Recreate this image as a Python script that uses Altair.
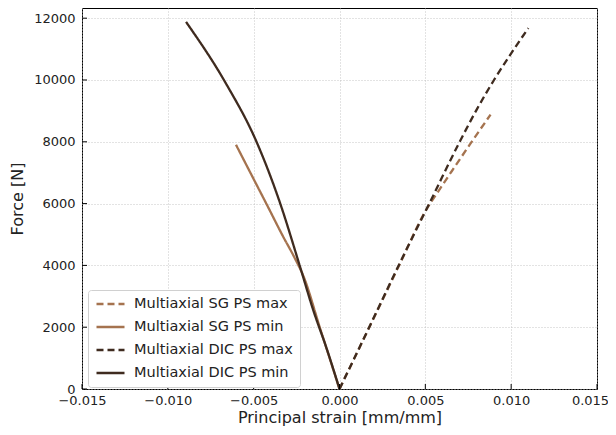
import altair as alt
import pandas as pd

# ---- data ----
series_names = ["Multiaxial SG PS max", "Multiaxial SG PS min",
                "Multiaxial DIC PS max", "Multiaxial DIC PS min"]

sg_max_strain = [0.0, 0.0018, 0.0035, 0.0050, 0.0057, 0.0067, 0.0078, 0.0088]
sg_max_force = [0, 2070, 4030, 5750, 6350, 7180, 8080, 8880]

sg_min_strain = [0.0, -0.00114, -0.0021, -0.0026, -0.0033, -0.0042, -0.0051, -0.00603]
sg_min_force = [0, 1980, 3650, 4230, 4950, 5930, 6900, 7905]

dic_max_strain = [0.0, 0.0018, 0.0035, 0.0053, 0.0070, 0.0080, 0.0090, 0.0100, 0.0110]
dic_max_force = [0, 2080, 4060, 6080, 8000, 9050, 10000, 10860, 11680]

dic_min_strain = [0.0, -0.00073, -0.00154, -0.0023, -0.00347, -0.00481, -0.00667, -0.00894]
dic_min_force = [0, 1280, 2570, 3960, 6030, 7970, 9940, 11880]

x_ticks = [-0.015, -0.010, -0.005, 0.0, 0.005, 0.010, 0.015]
y_ticks = [0, 2000, 4000, 6000, 8000, 10000, 12000]

colors = ["#a5734f", "#a5734f", "#3f2b1f", "#3f2b1f"]
dashes = [[7, 4], [1, 0], [7, 4], [1, 0]]

rows = []
for name, xs, ys in zip(series_names,
                        [sg_max_strain, sg_min_strain, dic_max_strain, dic_min_strain],
                        [sg_max_force, sg_min_force, dic_max_force, dic_min_force]):
    for sx, fy in zip(xs, ys):
        rows.append({"series": name, "strain": sx, "force": fy})
df = pd.DataFrame(rows)

W, H = 515, 381
xscale = alt.Scale(domain=[-0.015, 0.015], nice=False, zero=False)
yscale = alt.Scale(domain=[0, 12330], nice=False)

xaxis = alt.Axis(values=x_ticks, format=".3f", title="Principal strain [mm/mm]",
                 labelFlush=False, labelOverlap=False, tickSize=0, labelPadding=5,
                 titlePadding=2,
                 labelOffset={"condition": {"test": "datum.value >= 0.0149", "value": -7},
                              "value": 0})
yaxis = alt.Axis(values=y_ticks, format="d", title="Force [N]",
                 labelOverlap=False, tickSize=0, labelPadding=7, titlePadding=8)

X = alt.X("strain:Q", scale=xscale, axis=xaxis)
Y = alt.Y("force:Q", scale=yscale, axis=yaxis)

legend = alt.Legend(title=None, orient="none", legendX=6, legendY=282,
                    symbolType="stroke", symbolSize=784, symbolStrokeWidth=2.5,
                    clipHeight=14,
                    labelFontSize=14.5, labelOffset=8, rowPadding=8, padding=7,
                    fillColor="white", strokeColor="#d0d0d0", cornerRadius=3,
                    labelColor="#222222")

lines = alt.Chart(df).mark_line(strokeWidth=2.3, interpolate="monotone").encode(
    x=X, y=Y,
    color=alt.Color("series:N", scale=alt.Scale(domain=series_names, range=colors),
                    legend=legend, sort=series_names),
    strokeDash=alt.StrokeDash("series:N",
                              scale=alt.Scale(domain=series_names, range=dashes),
                              legend=legend, sort=series_names),
)

xt = alt.Chart(pd.DataFrame({"strain": x_ticks})).mark_rule(color="black", strokeWidth=1).encode(
    x=X, y=alt.value(H), y2=alt.value(H - 5))
yt = alt.Chart(pd.DataFrame({"force": y_ticks})).mark_rule(color="black", strokeWidth=1).encode(
    y=Y, x=alt.value(0), x2=alt.value(5))

chart = alt.layer(lines, xt, yt).properties(
    width=W, height=H,
    autosize=alt.AutoSizeParams(type="none"),
    padding={"left": 74, "top": 0, "right": 11, "bottom": 38},
).configure(
    font="DejaVu Sans",
).configure_view(
    stroke="black", strokeWidth=1,
).configure_axis(
    domain=False, grid=True, gridColor="#b8b8b8", gridDash=[1, 2], gridWidth=0.8,
    labelFontSize=13, labelColor="#222222", titleFontSize=16,
    titleFontWeight="normal", titleColor="#222222",
)

chart.save("out.html", embed_options={"renderer": "svg", "actions": False})
